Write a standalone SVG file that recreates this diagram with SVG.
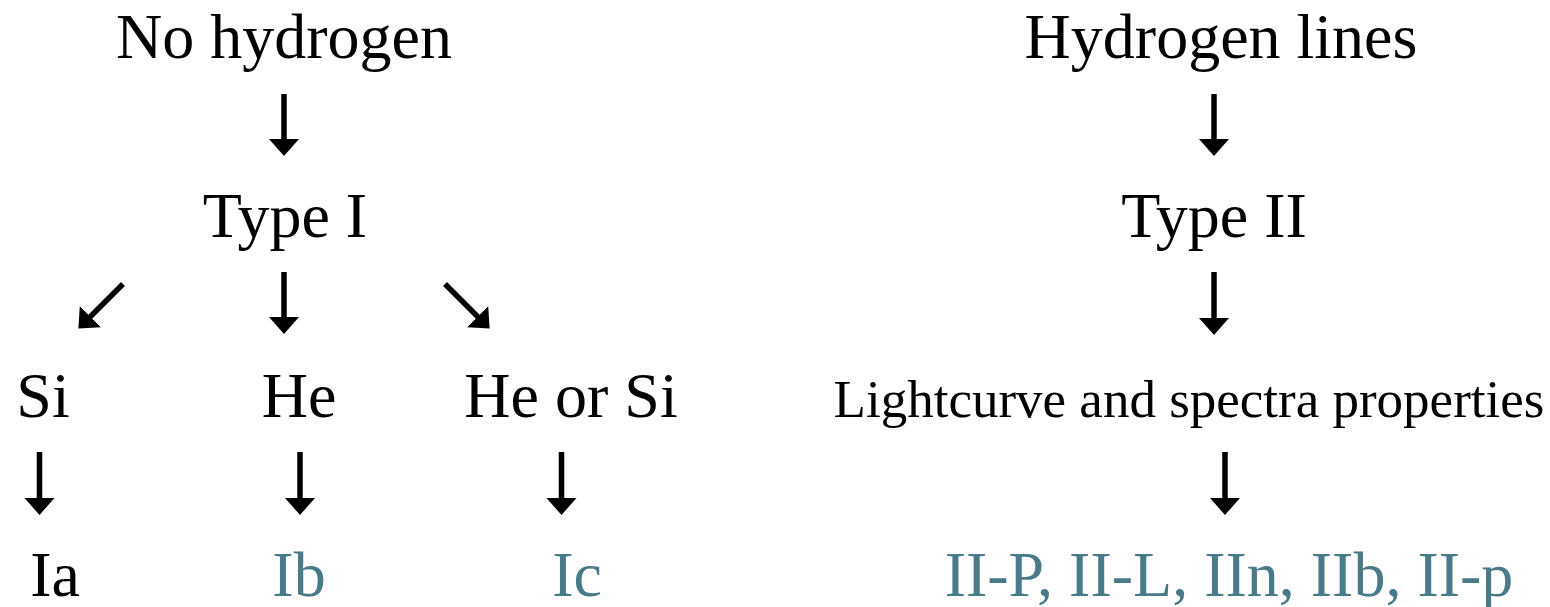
<svg xmlns="http://www.w3.org/2000/svg" width="1550" height="607" viewBox="0 0 1550 607">
<defs>
<marker id="ah" markerUnits="userSpaceOnUse" markerWidth="20" markerHeight="32" viewBox="0 -16 20 32" refX="2" refY="0" orient="auto">
<path d="M0,-15 L17,0 L0,15 z" fill="#000"/>
</marker>
<style>
text{font-family:"Liberation Serif","Times New Roman",serif;font-size:64px;fill:#000;text-anchor:middle}
.teal{fill:#497a87}
.small{font-size:53px}
.conn line{stroke:#000;stroke-width:5.5;marker-end:url(#ah)}
</style>
</defs>
<rect width="1550" height="607" fill="#fff"/>
<g id="no-hydrogen"><text x="284" y="58">No hydrogen</text></g>
<g id="type-i"><text x="285" y="237">Type I</text></g>
<g id="si"><text x="43" y="417">Si</text></g>
<g id="he"><text x="299" y="417">He</text></g>
<g id="he-or-si"><text x="571" y="417">He or Si</text></g>
<g id="ia"><text x="55" y="596">Ia</text></g>
<g id="ib"><text class="teal" x="299" y="596">Ib</text></g>
<g id="ic"><text class="teal" x="577" y="596">Ic</text></g>
<g id="hydrogen-lines"><text x="1221" y="58">Hydrogen lines</text></g>
<g id="type-ii"><text x="1214" y="237">Type II</text></g>
<g id="lightcurve"><text class="small" x="1189" y="417">Lightcurve and spectra properties</text></g>
<g id="subtypes"><text class="teal" x="1229" y="596">II-P, II-L, IIn, IIb, II-p</text></g>
<g id="connectors" class="conn">
<line x1="284" y1="94" x2="284" y2="141"/>
<line x1="284" y1="272" x2="284" y2="319"/>
<line x1="123" y1="284" x2="89" y2="318"/>
<line x1="445" y1="284" x2="479" y2="318"/>
<line x1="39.5" y1="452" x2="39.5" y2="500"/>
<line x1="300" y1="452" x2="300" y2="500"/>
<line x1="561.5" y1="452" x2="561.5" y2="500"/>
<line x1="1214" y1="94" x2="1214" y2="141"/>
<line x1="1214" y1="272" x2="1214" y2="320"/>
<line x1="1225" y1="452" x2="1225" y2="500"/>
</g>
</svg>
